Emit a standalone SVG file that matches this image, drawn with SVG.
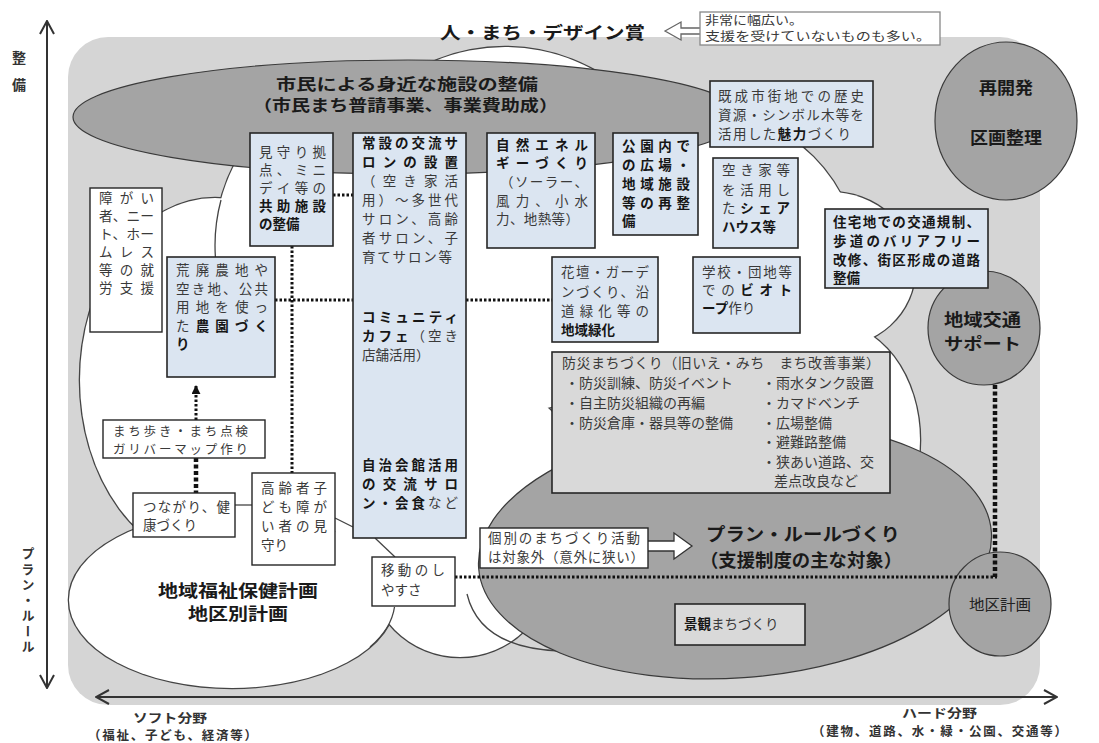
<svg xmlns="http://www.w3.org/2000/svg" width="1099" height="743" viewBox="0 0 1099 743">
<style>
.t{font-family:"Noto Sans CJK JP","Noto Sans",sans-serif;font-size:13.5px;fill:#3a3a3a}
.s14{font-size:14px}
.b{font-weight:bold;fill:#161616}
.h{font-family:"Noto Sans CJK JP","Noto Sans",sans-serif;font-weight:bold;fill:#1a1a1a}
.blue{fill:#dbe5f1;stroke:#262626;stroke-width:1.6}
.wbox{fill:#fff;stroke:#262626;stroke-width:1.4}
.gbox{fill:#d9d9d9;stroke:#262626;stroke-width:1.6}
.dark{fill:#a4a4a4;stroke:#3a3a3a;stroke-width:1.2}
.dot{stroke:#111;stroke-width:3;stroke-dasharray:2.5 2;fill:none}
.dotk{stroke:#111;stroke-width:4.5;stroke-dasharray:4 2.5;fill:none}
.thin{stroke:#444;stroke-width:1.3;fill:none}
.axis{stroke:#333;stroke-width:2;fill:none}
.arc{stroke:#444;stroke-width:1.3;fill:none}
</style>
<defs>
<marker id="chev" viewBox="0 0 16 16" refX="15" refY="8" markerWidth="16" markerHeight="16" markerUnits="userSpaceOnUse" orient="auto-start-reverse"><path d="M2,1 L15,8 L2,15" fill="none" stroke="#333" stroke-width="2"/></marker>
<marker id="tri" viewBox="0 0 10 10" refX="9" refY="5" markerWidth="9" markerHeight="9" markerUnits="userSpaceOnUse" orient="auto"><path d="M0,0 L10,5 L0,10 Z" fill="#111"/></marker>
<g id="cloudShapes">
<ellipse cx="232" cy="600" rx="163" ry="88"/>
<ellipse cx="215" cy="380" rx="135" ry="182"/>
<ellipse cx="400" cy="245" rx="185" ry="180"/>
<circle cx="505" cy="230" r="183"/>
<circle cx="700" cy="270" r="160"/>
<ellipse cx="830" cy="270" rx="85" ry="78"/>
<ellipse cx="830" cy="440" rx="90" ry="118"/>
<ellipse cx="450" cy="480" rx="130" ry="110"/>
<circle cx="460" cy="565" r="92"/>
</g>
</defs>

<g id="background">
<rect x="68" y="37" width="972" height="668" rx="40" fill="#d5d5d5"/>
</g>

<g id="cloud">
<use href="#cloudShapes" fill="#fff" stroke="#444" stroke-width="2.6"/>
<use href="#cloudShapes" fill="#fff" stroke="none"/>
<path class="arc" d="M215.4 257 A185 180 0 0 1 221 200"/>
<path class="arc" d="M394.5 607 A163 88 0 0 1 370 647"/>
<path class="arc" d="M467 594 Q480 648 560 651"/>
</g>

<g id="node-shimin-seibi">
<ellipse class="dark" cx="408" cy="117" rx="335" ry="57"/>
<text class="h" style="font-size:15.5px" x="276" y="90" textLength="262" lengthAdjust="spacingAndGlyphs">市民による身近な施設の整備</text>
<text class="h" style="font-size:15.5px" x="253" y="111" textLength="305" lengthAdjust="spacingAndGlyphs">（市民まち普請事業、事業費助成）</text>
</g>

<g id="node-plan-rule">
<ellipse class="dark" cx="735" cy="550" rx="257" ry="128" transform="rotate(-4 735 550)"/>
<text class="h" style="font-size:18px" x="706" y="541" textLength="194" lengthAdjust="spacingAndGlyphs">プラン・ルールづくり</text>
<text class="h" style="font-size:18px" x="700" y="567" textLength="202" lengthAdjust="spacingAndGlyphs">（支援制度の主な対象）</text>
</g>

<g id="node-saikaihatsu">
<ellipse class="dark" cx="1006" cy="121" rx="71" ry="79"/>
<text class="h" style="font-size:17px" x="979" y="94" textLength="54" lengthAdjust="spacingAndGlyphs">再開発</text>
<text class="h" style="font-size:17px" x="970" y="144" textLength="72" lengthAdjust="spacingAndGlyphs">区画整理</text>
</g>

<g id="node-chiiki-kotsu">
<ellipse class="dark" cx="984" cy="328" rx="56" ry="57"/>
<text class="h" style="font-size:16.5px" x="944" y="326" textLength="77" lengthAdjust="spacingAndGlyphs">地域交通</text>
<text class="h" style="font-size:16.5px" x="944" y="350" textLength="77" lengthAdjust="spacingAndGlyphs">サポート</text>
</g>

<g id="node-chiku-keikaku">
<ellipse class="dark" cx="1000" cy="604" rx="51" ry="52"/>
<text class="t" style="font-size:15px;fill:#222" x="969" y="610" textLength="62" lengthAdjust="spacingAndGlyphs">地区計画</text>
</g>

<g id="node-fukushi">
<text class="h" style="font-size:17px" x="158" y="597" textLength="160" lengthAdjust="spacingAndGlyphs">地域福祉保健計画</text>
<text class="h" style="font-size:17px" x="188" y="620" textLength="100" lengthAdjust="spacingAndGlyphs">地区別計画</text>
</g>

<g id="connectors">
<line class="dot" x1="333" y1="195" x2="353" y2="195"/>
<line class="dot" x1="292" y1="246" x2="292" y2="473"/>
<line class="dot" x1="275" y1="300" x2="353" y2="300"/>
<line class="dot" x1="466" y1="300" x2="552" y2="300"/>
<line class="dot" x1="196" y1="420" x2="196" y2="386" marker-end="url(#tri)"/>
<line class="dot" x1="455" y1="577" x2="997" y2="577"/>
<line class="dotk" x1="196" y1="458" x2="196" y2="493"/>
<line class="dotk" x1="995" y1="385" x2="995" y2="577"/>
<line class="thin" x1="235" y1="505" x2="252" y2="505"/>
<line class="thin" x1="335" y1="518" x2="353" y2="527"/>
<line class="thin" x1="375" y1="538" x2="395" y2="557"/>
<polygon points="665,31 681,22 681,28 701,28 701,34 681,34 681,40" fill="#fff" stroke="#666" stroke-width="1.3"/>
<polygon points="692,546 674,533 674,541 640,541 640,551 674,551 674,559" fill="#fff" stroke="#333" stroke-width="1.3"/>
</g>

<g id="node-award">
<text class="h" style="font-size:17px" x="440" y="39" textLength="205" lengthAdjust="spacingAndGlyphs">人・まち・デザイン賞</text>
</g>

<g id="node-callout">
<rect x="700" y="12" width="240" height="33" fill="#fff" stroke="#888" stroke-width="1.3"/>
<text class="t" style="font-size:12px" x="705" y="24.5" textLength="98" lengthAdjust="spacingAndGlyphs">非常に幅広い。</text>
<text class="t" style="font-size:12px" x="705" y="41" textLength="226" lengthAdjust="spacingAndGlyphs">支援を受けていないものも多い。</text>
</g>

<g id="node-mimamori">
<rect class="blue" x="250" y="133" width="83" height="113"/>
<text class="t" x="259" y="157" textLength="67" lengthAdjust="spacing">見守り拠</text>
<text class="t" x="259" y="175" textLength="67" lengthAdjust="spacing">点、ミニ</text>
<text class="t" x="259" y="193" textLength="67" lengthAdjust="spacing">デイ等の</text>
<text class="t b" x="259" y="211" textLength="67" lengthAdjust="spacing">共助施設</text>
<text class="t b" x="259" y="229">の整備</text>
</g>

<g id="node-salon">
<rect class="blue" x="353" y="133" width="113" height="405"/>
<text class="t b" x="362" y="148" textLength="96" lengthAdjust="spacing">常設の交流サ</text>
<text class="t b" x="362" y="167" textLength="96" lengthAdjust="spacing">ロンの設置</text>
<text class="t" x="362" y="186" textLength="96" lengthAdjust="spacing">（空き家活</text>
<text class="t" x="362" y="205" textLength="96" lengthAdjust="spacing">用）～多世代</text>
<text class="t" x="362" y="224" textLength="96" lengthAdjust="spacing">サロン、高齢</text>
<text class="t" x="362" y="243" textLength="96" lengthAdjust="spacing">者サロン、子</text>
<text class="t" x="362" y="262" textLength="90" lengthAdjust="spacing">育てサロン等</text>
<text class="t b" x="362" y="322" textLength="96" lengthAdjust="spacing">コミュニティ</text>
<text class="t" x="362" y="341" textLength="96" lengthAdjust="spacing"><tspan class="b">カフェ</tspan>（空き</text>
<text class="t" x="362" y="360">店舗活用）</text>
<text class="t b" x="362" y="470" textLength="96" lengthAdjust="spacing">自治会館活用</text>
<text class="t b" x="362" y="489" textLength="96" lengthAdjust="spacing">の交流サロ</text>
<text class="t" x="362" y="508" textLength="96" lengthAdjust="spacing"><tspan class="b">ン・会食</tspan>など</text>
</g>

<g id="node-energy">
<rect class="blue" x="487" y="133" width="108" height="115"/>
<text class="t b" x="496" y="150" textLength="92" lengthAdjust="spacing">自然エネル</text>
<text class="t b" x="496" y="168" textLength="92" lengthAdjust="spacing">ギーづくり</text>
<text class="t" x="500" y="187" textLength="88" lengthAdjust="spacing">（ソーラー、</text>
<text class="t" x="496" y="206" textLength="92" lengthAdjust="spacing">風力、小水</text>
<text class="t" x="496" y="224" textLength="83" lengthAdjust="spacing">力、地熱等）</text>
</g>

<g id="node-park">
<rect class="blue" x="613" y="133" width="85" height="102"/>
<text class="t b" x="622" y="151" textLength="68" lengthAdjust="spacing">公園内で</text>
<text class="t b" x="622" y="170" textLength="68" lengthAdjust="spacing">の広場・</text>
<text class="t b" x="622" y="189" textLength="68" lengthAdjust="spacing">地域施設</text>
<text class="t b" x="622" y="208" textLength="68" lengthAdjust="spacing">等の再整</text>
<text class="t b" x="622" y="226">備</text>
</g>

<g id="node-rekishi">
<rect class="blue" x="710" y="81" width="163" height="66"/>
<text class="t" x="718" y="101" textLength="146" lengthAdjust="spacing">既成市街地での歴史</text>
<text class="t" x="718" y="120" textLength="146" lengthAdjust="spacing">資源・シンボル木等を</text>
<text class="t" x="718" y="139" textLength="133" lengthAdjust="spacing">活用した<tspan class="b">魅力</tspan>づくり</text>
</g>

<g id="node-share">
<rect class="blue" x="713" y="158" width="85" height="90"/>
<text class="t" x="722" y="175" textLength="68" lengthAdjust="spacing">空き家等</text>
<text class="t" x="722" y="195" textLength="68" lengthAdjust="spacing">を活用し</text>
<text class="t" x="722" y="213" textLength="68" lengthAdjust="spacing">た<tspan class="b">シェア</tspan></text>
<text class="t b" x="722" y="232">ハウス等</text>
</g>

<g id="node-kotsu-kisei">
<rect class="blue" x="825" y="209" width="163" height="79"/>
<text class="t b" x="833" y="227" textLength="147" lengthAdjust="spacing">住宅地での交通規制、</text>
<text class="t b" x="833" y="246" textLength="147" lengthAdjust="spacing">歩道のバリアフリー</text>
<text class="t b" x="833" y="265" textLength="147" lengthAdjust="spacing">改修、街区形成の道路</text>
<text class="t b" x="833" y="283">整備</text>
</g>

<g id="node-ryokka">
<rect class="blue" x="552" y="257" width="106" height="85"/>
<text class="t" x="561" y="277" textLength="88" lengthAdjust="spacing">花壇・ガーデ</text>
<text class="t" x="561" y="297" textLength="88" lengthAdjust="spacing">ンづくり、沿</text>
<text class="t" x="561" y="316" textLength="88" lengthAdjust="spacing">道緑化等の</text>
<text class="t b" x="561" y="335">地域緑化</text>
</g>

<g id="node-biotope">
<rect class="blue" x="693" y="257" width="107" height="76"/>
<text class="t" x="702" y="277" textLength="90" lengthAdjust="spacing">学校・団地等</text>
<text class="t" x="702" y="295" textLength="90" lengthAdjust="spacing">での<tspan class="b">ビオト</tspan></text>
<text class="t" x="702" y="313"><tspan class="b">ープ</tspan>作り</text>
</g>

<g id="node-bousai">
<rect class="gbox" x="552" y="352" width="338" height="141"/>
<text class="t s14" x="562" y="368" textLength="318" lengthAdjust="spacing">防災まちづくり（旧いえ・みち　まち改善事業）</text>
<text class="t s14" x="565" y="388">・防災訓練、防災イベント</text>
<text class="t s14" x="565" y="408">・自主防災組織の再編</text>
<text class="t s14" x="565" y="428">・防災倉庫・器具等の整備</text>
<text class="t s14" x="762" y="388">・雨水タンク設置</text>
<text class="t s14" x="762" y="408">・カマドベンチ</text>
<text class="t s14" x="762" y="428">・広場整備</text>
<text class="t s14" x="762" y="447">・避難路整備</text>
<text class="t s14" x="762" y="467">・狭あい道路、交</text>
<text class="t s14" x="774" y="486">差点改良など</text>
</g>

<g id="node-shuro">
<rect class="wbox" x="90" y="188" width="72" height="144"/>
<text class="t" x="99" y="203" textLength="55" lengthAdjust="spacing">障がい</text>
<text class="t" x="99" y="221" textLength="55" lengthAdjust="spacingAndGlyphs">者、ニー</text>
<text class="t" x="99" y="239" textLength="55" lengthAdjust="spacingAndGlyphs">ト、ホー</text>
<text class="t" x="99" y="257" textLength="55" lengthAdjust="spacing">ムレス</text>
<text class="t" x="99" y="275" textLength="55" lengthAdjust="spacing">等の就</text>
<text class="t" x="99" y="293" textLength="55" lengthAdjust="spacing">労支援</text>
</g>

<g id="node-noen">
<rect class="blue" x="167" y="257" width="108" height="120"/>
<text class="t" x="176" y="275" textLength="92" lengthAdjust="spacing">荒廃農地や</text>
<text class="t" x="176" y="294" textLength="92" lengthAdjust="spacing">空き地、公共</text>
<text class="t" x="176" y="312" textLength="92" lengthAdjust="spacing">用地を使っ</text>
<text class="t" x="176" y="331" textLength="92" lengthAdjust="spacing">た<tspan class="b">農園づく</tspan></text>
<text class="t b" x="176" y="349">り</text>
</g>

<g id="node-machiaruki">
<rect class="wbox" x="103" y="420" width="162" height="38"/>
<text class="t" style="font-size:12.5px" x="113" y="435.5" textLength="135" lengthAdjust="spacing">まち歩き・まち点検</text>
<text class="t" style="font-size:12.5px" x="113" y="454" textLength="135" lengthAdjust="spacing">ガリバーマップ作り</text>
</g>

<g id="node-tsunagari">
<rect class="wbox" x="133" y="493" width="102" height="44"/>
<text class="t" x="143" y="512" textLength="87" lengthAdjust="spacing">つながり、健</text>
<text class="t" x="143" y="530">康づくり</text>
</g>

<g id="node-koreisha">
<rect class="wbox" x="252" y="473" width="83" height="92"/>
<text class="t" x="261" y="493" textLength="66" lengthAdjust="spacing">高齢者子</text>
<text class="t" x="261" y="512" textLength="66" lengthAdjust="spacing">ども障が</text>
<text class="t" x="261" y="531" textLength="66" lengthAdjust="spacing">い者の見</text>
<text class="t" x="261" y="550">守り</text>
</g>

<g id="node-idou">
<rect class="wbox" x="372" y="557" width="83" height="49"/>
<text class="t" x="381" y="575" textLength="64" lengthAdjust="spacing">移動のし</text>
<text class="t" x="381" y="595">やすさ</text>
</g>

<g id="node-kobetsu">
<rect class="wbox" x="480" y="528" width="168" height="40"/>
<text class="t" x="488" y="543" textLength="152" lengthAdjust="spacing">個別のまちづくり活動</text>
<text class="t" x="488" y="562" textLength="156" lengthAdjust="spacing">は対象外（意外に狭い）</text>
</g>

<g id="node-keikan">
<rect class="gbox" x="675" y="604" width="130" height="41"/>
<text class="t" x="684" y="629"><tspan class="b">景観</tspan>まちづくり</text>
</g>

<g id="axes">
<line class="axis" x1="47" y1="21" x2="47" y2="688" marker-start="url(#chev)" marker-end="url(#chev)"/>
<line class="axis" x1="96" y1="697" x2="1057" y2="697" marker-start="url(#chev)" marker-end="url(#chev)"/>
<text class="h" style="font-size:14px;fill:#333" x="19" y="63" text-anchor="middle">整</text>
<text class="h" style="font-size:14px;fill:#333" x="19" y="90" text-anchor="middle">備</text>
<text class="h" style="font-size:13px;fill:#333;writing-mode:vertical-rl;letter-spacing:2.5px" x="28" y="547">プラン・ルール</text>
<text class="h" style="font-size:12.5px;fill:#333" x="133" y="723" textLength="74" lengthAdjust="spacingAndGlyphs">ソフト分野</text>
<text class="h" style="font-size:12.5px;fill:#333" x="88" y="740" textLength="169" lengthAdjust="spacing">（福祉、子ども、経済等）</text>
<text class="h" style="font-size:12.5px;fill:#333" x="902" y="718" textLength="75" lengthAdjust="spacingAndGlyphs">ハード分野</text>
<text class="h" style="font-size:12.5px;fill:#333" x="812" y="736" textLength="255" lengthAdjust="spacing">（建物、道路、水・緑・公園、交通等）</text>
</g>
</svg>
